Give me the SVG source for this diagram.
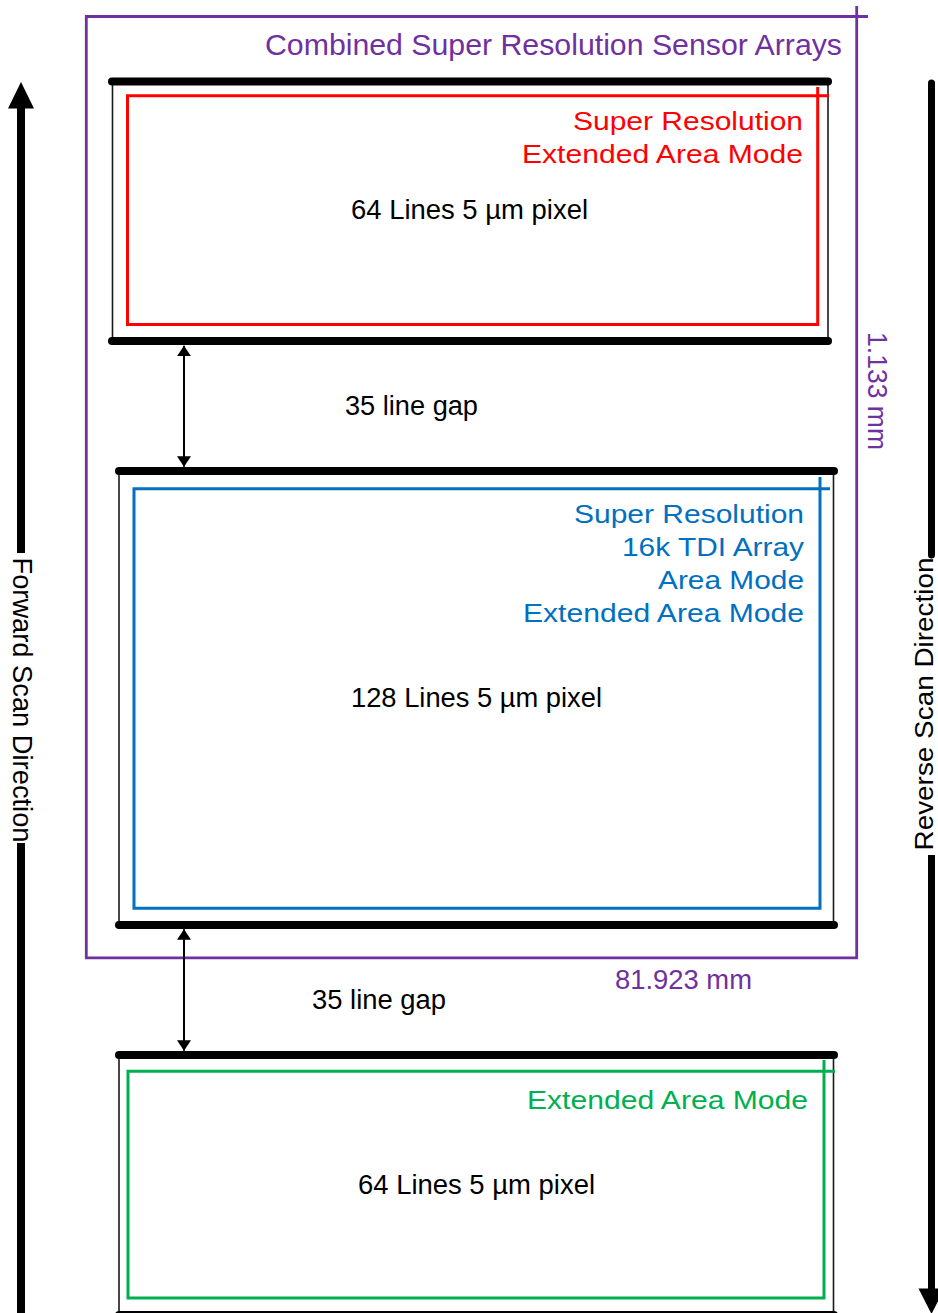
<svg xmlns="http://www.w3.org/2000/svg" width="938" height="1313" viewBox="0 0 938 1313">
<style>
.t{font-family:"Liberation Sans",Arial,sans-serif;}
.bk{font-size:27px;fill:#000;}
.col{font-size:25px;}
.pur{fill:#7030A0;}
.red{fill:#FF0000;}
.blu{fill:#0070C0;}
.grn{fill:#00B050;}
.bar{stroke:#000;stroke-width:8;stroke-linecap:round;fill:none;}
.side{stroke:#1a1a1a;stroke-width:1.6;fill:none;}
.frame{fill:none;stroke-width:3;}
.gap{stroke:#000;stroke-width:2;fill:none;}
.scan{stroke:#000;stroke-width:8;fill:none;}
</style>
<defs>
<marker id="ah" markerUnits="userSpaceOnUse" markerWidth="11" markerHeight="14" refX="10.5" refY="7" orient="auto-start-reverse">
<path d="M0,0 L10.5,7 L0,14 z" fill="#000"/>
</marker>
</defs>
<rect width="938" height="1313" fill="#fff"/>

<g id="combined-frame">
<path d="M868,16.5 H86.3 V957.8 H856.7 V6" fill="none" stroke="#7030A0" stroke-width="2.8"/>
<text class="t pur" x="842" y="55" font-size="29" text-anchor="end" textLength="577" lengthAdjust="spacingAndGlyphs">Combined Super Resolution Sensor Arrays</text>
<text class="t pur" transform="translate(868,391) rotate(90)" font-size="27" text-anchor="middle" textLength="118" lengthAdjust="spacingAndGlyphs">1.133 mm</text>
<text class="t pur" x="683.5" y="989" font-size="27" text-anchor="middle" textLength="137" lengthAdjust="spacingAndGlyphs">81.923 mm</text>
</g>

<g id="sensor-top">
<line class="side" x1="112.5" y1="81.5" x2="112.5" y2="341"/>
<line class="side" x1="828" y1="81.5" x2="828" y2="341"/>
<path class="frame" stroke="#FF0000" d="M829,95.7 H127.5 V324.5 H817.7 V87"/>
<line class="bar" x1="112" y1="81.5" x2="828" y2="81.5"/>
<line class="bar" x1="112" y1="341" x2="828" y2="341"/>
<text class="t col red" x="803" y="129.5" text-anchor="end" textLength="230" lengthAdjust="spacingAndGlyphs">Super Resolution</text>
<text class="t col red" x="803" y="162.5" text-anchor="end" textLength="281" lengthAdjust="spacingAndGlyphs">Extended Area Mode</text>
<text class="t bk" x="469.5" y="219" text-anchor="middle" textLength="237" lengthAdjust="spacingAndGlyphs">64 Lines 5 µm pixel</text>
</g>

<g id="sensor-middle">
<line class="side" x1="119" y1="471" x2="119" y2="925"/>
<line class="side" x1="833.5" y1="471" x2="833.5" y2="925"/>
<path class="frame" stroke="#0070C0" d="M830,488.7 H134 V908.3 H820 V477"/>
<line class="bar" x1="119" y1="471" x2="834" y2="471"/>
<line class="bar" x1="119" y1="925" x2="834" y2="925"/>
<text class="t col blu" x="804" y="523" text-anchor="end" textLength="230" lengthAdjust="spacingAndGlyphs">Super Resolution</text>
<text class="t col blu" x="804" y="556" text-anchor="end" textLength="182" lengthAdjust="spacingAndGlyphs">16k TDI Array</text>
<text class="t col blu" x="804" y="589" text-anchor="end" textLength="146" lengthAdjust="spacingAndGlyphs">Area Mode</text>
<text class="t col blu" x="804" y="622" text-anchor="end" textLength="281" lengthAdjust="spacingAndGlyphs">Extended Area Mode</text>
<text class="t bk" x="476.5" y="707" text-anchor="middle" textLength="251" lengthAdjust="spacingAndGlyphs">128 Lines 5 µm pixel</text>
</g>

<g id="sensor-bottom">
<line class="side" x1="119" y1="1055" x2="119" y2="1313"/>
<line class="side" x1="833.5" y1="1055" x2="833.5" y2="1313"/>
<path class="frame" stroke="#00B050" d="M835,1071.3 H128 V1298 H824 V1060"/>
<line class="bar" x1="119" y1="1055" x2="834" y2="1055"/>
<line class="bar" x1="119" y1="1315" x2="834" y2="1315"/>
<text class="t col grn" x="808" y="1108.5" text-anchor="end" textLength="281" lengthAdjust="spacingAndGlyphs">Extended Area Mode</text>
<text class="t bk" x="476.5" y="1194" text-anchor="middle" textLength="237" lengthAdjust="spacingAndGlyphs">64 Lines 5 µm pixel</text>
</g>

<g id="connectors">
<line class="gap" x1="184" y1="345.7" x2="184" y2="466.7" marker-start="url(#ah)" marker-end="url(#ah)"/>
<text class="t bk" x="411.5" y="415" text-anchor="middle" textLength="133" lengthAdjust="spacingAndGlyphs">35 line gap</text>
<line class="gap" x1="184" y1="929.3" x2="184" y2="1050.7" marker-start="url(#ah)" marker-end="url(#ah)"/>
<text class="t bk" x="379" y="1009" text-anchor="middle" textLength="134" lengthAdjust="spacingAndGlyphs">35 line gap</text>
</g>

<g id="forward-scan">
<path d="M21,82 L34,108.5 L8,108.5 z" fill="#000"/>
<line class="scan" x1="21" y1="107" x2="21" y2="553"/>
<line class="scan" x1="21" y1="843" x2="21" y2="1320"/>
<text class="t" transform="translate(12.5,700) rotate(90)" font-size="27" text-anchor="middle" textLength="285" lengthAdjust="spacingAndGlyphs" fill="#000">Forward Scan Direction</text>
</g>

<g id="reverse-scan">
<line x1="931.5" y1="83" x2="931.5" y2="555" stroke="#000" stroke-width="7" stroke-linecap="round"/>
<line x1="931.5" y1="855" x2="931.5" y2="1290" stroke="#000" stroke-width="7"/>
<path d="M918.5,1288.5 L944.5,1288.5 L931.5,1314 z" fill="#000"/>
<text class="t" transform="translate(932.5,704) rotate(-90)" font-size="25" text-anchor="middle" textLength="293" lengthAdjust="spacingAndGlyphs" fill="#000">Reverse Scan Direction</text>
</g>
</svg>
